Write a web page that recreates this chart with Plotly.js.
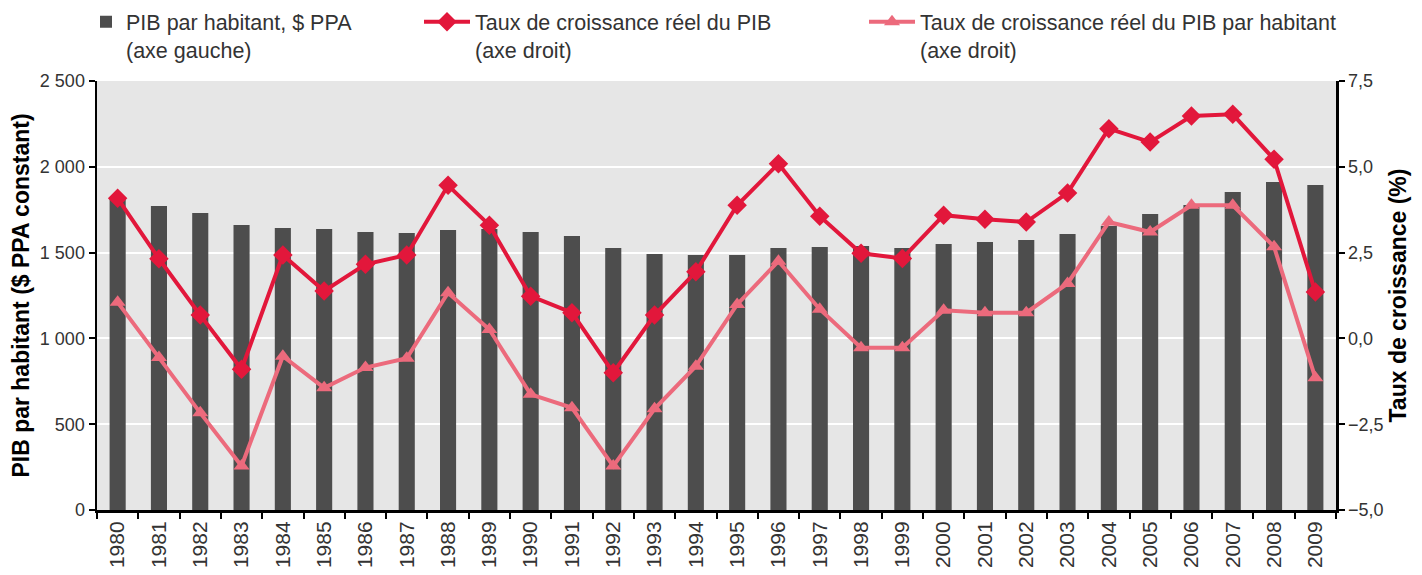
<!DOCTYPE html>
<html>
<head>
<meta charset="utf-8">
<script src="https://cdn.plot.ly/plotly-3.0.1.min.js"></script>
<style>html,body{margin:0;padding:0;background:#fff;}#chart{width:1422px;height:575px;}</style>
</head>
<body>
<div id="chart"></div>
<script>
var years = ['1980','1981','1982','1983','1984','1985','1986','1987','1988','1989','1990','1991','1992','1993','1994','1995','1996','1997','1998','1999','2000','2001','2002','2003','2004','2005','2006','2007','2008','2009'];
var pibParHabitant = [1812,1772,1731,1661,1643,1638,1620,1614,1632,1638,1620,1597,1527,1492,1486,1486,1527,1533,1538,1527,1550,1562,1573,1608,1655,1725,1777,1853,1911,1894];
var croissancePIB = [4.08,2.32,0.68,-0.90,2.43,1.38,2.16,2.43,4.46,3.30,1.23,0.75,-1.00,0.68,1.94,3.88,5.09,3.56,2.48,2.33,3.59,3.47,3.39,4.24,6.11,5.72,6.48,6.53,5.22,1.35];
var croissancePIBHab = [1.05,-0.56,-2.17,-3.72,-0.52,-1.44,-0.85,-0.58,1.33,0.26,-1.63,-2.02,-3.72,-2.05,-0.81,0.99,2.25,0.85,-0.27,-0.27,0.82,0.75,0.75,1.60,3.39,3.10,3.88,3.88,2.67,-1.15];
var legendNames = ['PIB par habitant, $ PPA<br>(axe gauche)','Taux de croissance réel du PIB<br>(axe droit)','Taux de croissance réel du PIB par habitant<br>(axe droit)'];
var leftTitle = 'PIB par habitant ($ PPA constant)';
var rightTitle = 'Taux de croissance (%)';

var FONT = '"Liberation Sans", Arial, sans-serif';
var TXT = '#333333';

var traces = [
  {type:'bar', x:years, y:pibParHabitant, name:legendNames[0], marker:{color:'#4d4d4d'}, legend:'legend', hoverinfo:'x+y'},
  {type:'scatter', mode:'lines+markers', x:years, y:croissancePIB, yaxis:'y2', name:legendNames[1], legend:'legend2',
   line:{color:'#e2173b', width:4}, marker:{symbol:'diamond', size:15, color:'#e2173b'}},
  {type:'scatter', mode:'lines+markers', x:years, y:croissancePIBHab, yaxis:'y2', name:legendNames[2], legend:'legend3',
   line:{color:'#ec6a7c', width:4}, marker:{symbol:'triangle-up', size:14, color:'#ec6a7c'}}
];

var legFont = {family:FONT, size:21.5, color:TXT};
function leg(xpx, iw){
  return {xref:'container', yref:'container', x:xpx/1422, xanchor:'left', y:0.998, yanchor:'top',
    orientation:'h', valign:'top', font:legFont, bgcolor:'rgba(0,0,0,0)', itemwidth:iw};
}
var layout = {
  width:1422, height:575,
  margin:{l:97, r:86, t:81, b:65, pad:0},
  paper_bgcolor:'#ffffff', plot_bgcolor:'#e6e6e6',
  separators:', ',
  bargap:0.61,
  showlegend:true,
  font:{family:FONT, size:18, color:TXT},
  xaxis:{type:'category', range:[-0.5, 29.5], autorange:false, tickson:'boundaries', ticks:'outside', ticklen:6, tickwidth:2, tickcolor:'#000',
    showline:true, linecolor:'#000', linewidth:3, showgrid:false, zeroline:false,
    tickangle:-90, tickfont:{family:FONT, size:21, color:TXT}, automargin:false},
  yaxis:{range:[0,2500], autorange:false, dtick:500, tick0:0, separatethousands:true, tickformat:',d',
    ticks:'outside', ticklen:6, tickwidth:2, tickcolor:'#000', showline:true, linecolor:'#000', linewidth:2.5,
    showgrid:true, gridcolor:'#ffffff', gridwidth:2, zeroline:false, automargin:false,
    tickfont:{family:FONT, size:18, color:TXT},
    title:{text:leftTitle, font:{family:FONT, size:23, color:'#000', weight:'bold'}, standoff:4}},
  yaxis2:{range:[-5,7.5], autorange:false, dtick:2.5, tick0:0, tickformat:'.1f', overlaying:'y', side:'right',
    ticks:'outside', ticklen:6, tickwidth:2, tickcolor:'#000', showline:true, linecolor:'#000', linewidth:2.5,
    showgrid:false, zeroline:false, automargin:false,
    tickfont:{family:FONT, size:18, color:TXT},
    title:{text:rightTitle, font:{family:FONT, size:23, color:'#000', weight:'bold'}, standoff:8}},
  legend: leg(86, 30),
  legend2: leg(419, 46),
  legend3: leg(864, 46)
};

Plotly.newPlot('chart', traces, layout, {displayModeBar:false, staticPlot:true});
</script>
</body>
</html>
